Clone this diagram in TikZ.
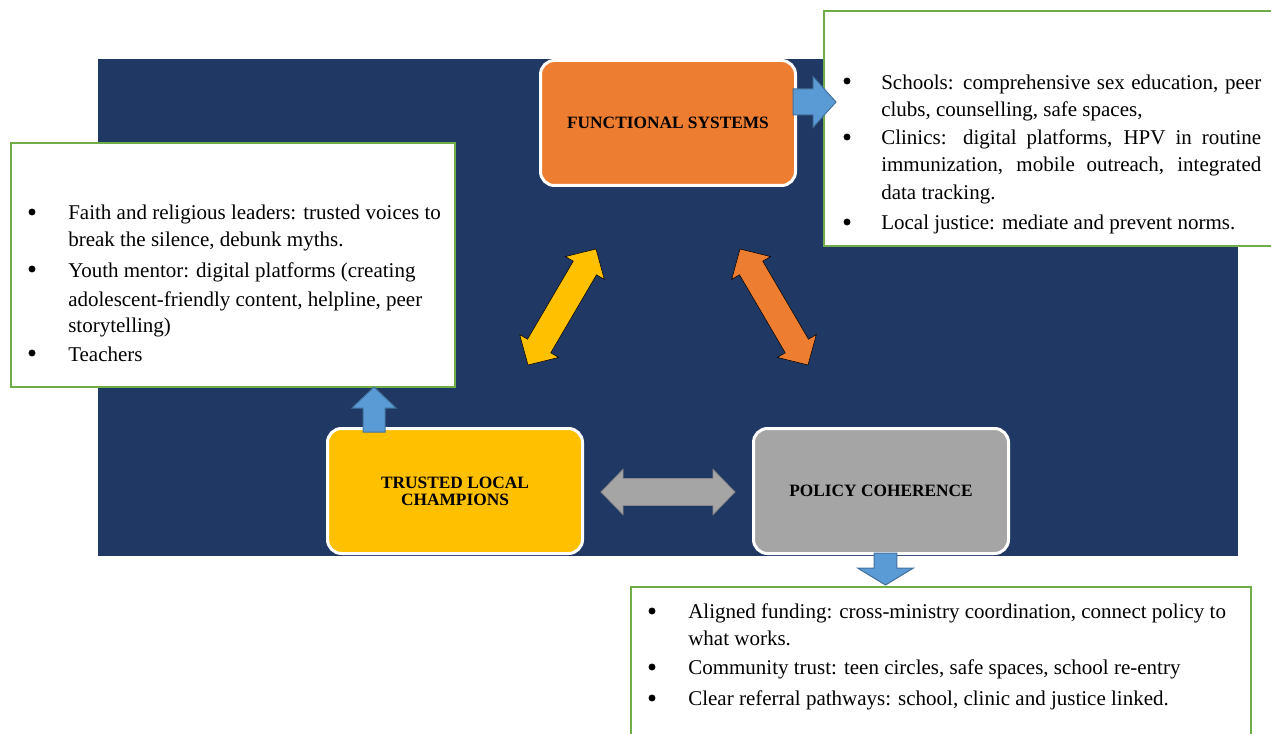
\documentclass[tikz,border=0pt]{standalone}
\usepackage{fontspec}
\setmainfont{Liberation Serif}
\usetikzlibrary{calc}
\definecolor{navy}{HTML}{203864}
\definecolor{fsorange}{HTML}{ED7D31}
\definecolor{tlcyellow}{HTML}{FFC000}
\definecolor{pcgray}{HTML}{A5A5A5}
\definecolor{graylinec}{HTML}{8A8A8A}
\definecolor{arrowblue}{HTML}{5B9BD5}
\definecolor{arrowline}{HTML}{41719C}
\definecolor{boxgreen}{HTML}{70AD47}
\newcommand\dblarrow[4]{%
  \coordinate (#4h1) at ($(#2)!16.5pt!(#3)$);
  \coordinate (#4h2) at ($(#3)!16.5pt!(#2)$);
  \draw[#1] (#2) -- ($(#4h1)!16.9pt!90:(#3)$) -- ($(#4h1)!10.1pt!90:(#3)$)
    -- ($(#4h2)!10.1pt!-90:(#2)$) -- ($(#4h2)!16.9pt!-90:(#2)$) -- (#3)
    -- ($(#4h2)!16.9pt!90:(#2)$) -- ($(#4h2)!10.1pt!90:(#2)$)
    -- ($(#4h1)!10.1pt!-90:(#3)$) -- ($(#4h1)!16.9pt!-90:(#3)$) -- cycle;}
\newcommand\sglarrow[7]{%
  \coordinate (#4h) at ($(#3)!#5!(#2)$);
  \draw[#1] ($(#2)!#6!90:(#3)$) -- ($(#4h)!#6!-90:(#2)$) -- ($(#4h)!#7!-90:(#2)$)
    -- (#3) -- ($(#4h)!#7!90:(#2)$) -- ($(#4h)!#6!90:(#2)$)
    -- ($(#2)!#6!-90:(#3)$) -- cycle;}
\begin{document}
\begin{tikzpicture}[x=0.75pt,y=-0.75pt,
  body/.style={font=\fontsize{15.75}{19}\selectfont, inner sep=0pt, anchor=base west},
  bul/.style={circle, fill=black, inner sep=0pt, minimum size=5.2pt},
  textbox/.style={draw=boxgreen, line width=1.5pt, fill=white, anchor=north west, inner sep=0pt},
  hub/.style={draw=white, line width=2.25pt, rounded corners=10.5pt,
    minimum width=191.25pt, minimum height=93.75pt,
    font=\bfseries\fontsize{13}{12.75}\selectfont, align=center, text=black, inner sep=0pt},
  bluearrow/.style={fill=arrowblue, draw=arrowline, line width=0.75pt},
  ]
\useasboundingbox (0,0) rectangle (1271,734);
\fill[navy] (98,59) rectangle (1238,556);

% text boxes
\node[textbox, minimum width=342.75pt, minimum height=176.25pt] (trbox) at (823,10) {};
\node[textbox, minimum width=333pt, minimum height=183pt] (lbox) at (10,142) {};
\node[textbox, minimum width=465pt, minimum height=123pt] (bbox) at (630,586) {};

% hub nodes
\node[hub, fill=fsorange] (fs) at (668,123) {FUNCTIONAL SYSTEMS};
\node[hub, fill=tlcyellow] (tlc) at (455,491) {TRUSTED LOCAL\\CHAMPIONS};
\node[hub, fill=pcgray] (pc) at (881,491) {POLICY COHERENCE};

% double arrows
\coordinate (ya) at (528,365); \coordinate (yb) at (596,249);
\coordinate (oa) at (740,249); \coordinate (ob) at (808,365);
\coordinate (ga) at (601,492); \coordinate (gb) at (735,492);
\dblarrow{fill=tlcyellow}{ya}{yb}{y}
\dblarrow{fill=fsorange}{oa}{ob}{o}
\dblarrow{fill=pcgray, draw=graylinec, line width=0.6pt}{ga}{gb}{g}

% single blue arrows
\coordinate (ra) at (793,102); \coordinate (rb) at (836,102);
\coordinate (ua) at (374,432); \coordinate (ub) at (374,387);
\coordinate (da) at (885.5,553); \coordinate (db) at (885.5,585);
\sglarrow{bluearrow}{ra}{rb}{r}{17.25pt}{9.75pt}{19.1pt}
\sglarrow{bluearrow}{ua}{ub}{u}{15.75pt}{8.25pt}{16.5pt}
\sglarrow{bluearrow}{da}{db}{d}{12.75pt}{8.6pt}{21pt}

% top-right text
\node[bul] (trb1) at (847,81) {};
\node[body] (tr1) at (881,90) {\hbox to 285pt{Schools: comprehensive sex education, peer}};
\node[body] (tr2) at (881,117) {clubs, counselling, safe spaces,};
\node[bul] (trb2) at (847,137) {};
\node[body] (tr3) at (881,145) {\hbox to 285pt{Clinics: digital platforms, HPV in routine}};
\node[body] (tr4) at (881,172) {\hbox to 285pt{immunization, mobile outreach, integrated}};
\node[body] (tr5) at (881,200) {data tracking.};
\node[bul] (trb3) at (847,222) {};
\node[body] (tr6) at (881,230) {Local justice: mediate and prevent norms.};

% left text
\node[bul] (lb1) at (32,212) {};
\node[body] (l1) at (68,220) {Faith and religious leaders: trusted voices to};
\node[body] (l2) at (68,247) {break the silence, debunk myths.};
\node[bul] (lb2) at (32,269) {};
\node[body] (l3) at (68,278) {Youth mentor: digital platforms (creating};
\node[body] (l4) at (68,306) {adolescent-friendly content, helpline, peer};
\node[body] (l5) at (68,333) {storytelling)};
\node[bul] (lb3) at (32,353) {};
\node[body] (l6) at (68,361) {Teachers};

% bottom text
\node[bul] (bb1) at (652,611) {};
\node[body] (b1) at (688,618) {Aligned funding: cross-ministry coordination, connect policy to};
\node[body] (b2) at (688,645) {what works.};
\node[bul] (bb2) at (652,667) {};
\node[body] (b3) at (688,674) {Community trust: teen circles, safe spaces, school re-entry};
\node[bul] (bb3) at (652,698) {};
\node[body] (b4) at (688,705) {Clear referral pathways: school, clinic and justice linked.};
\end{tikzpicture}
\end{document}
